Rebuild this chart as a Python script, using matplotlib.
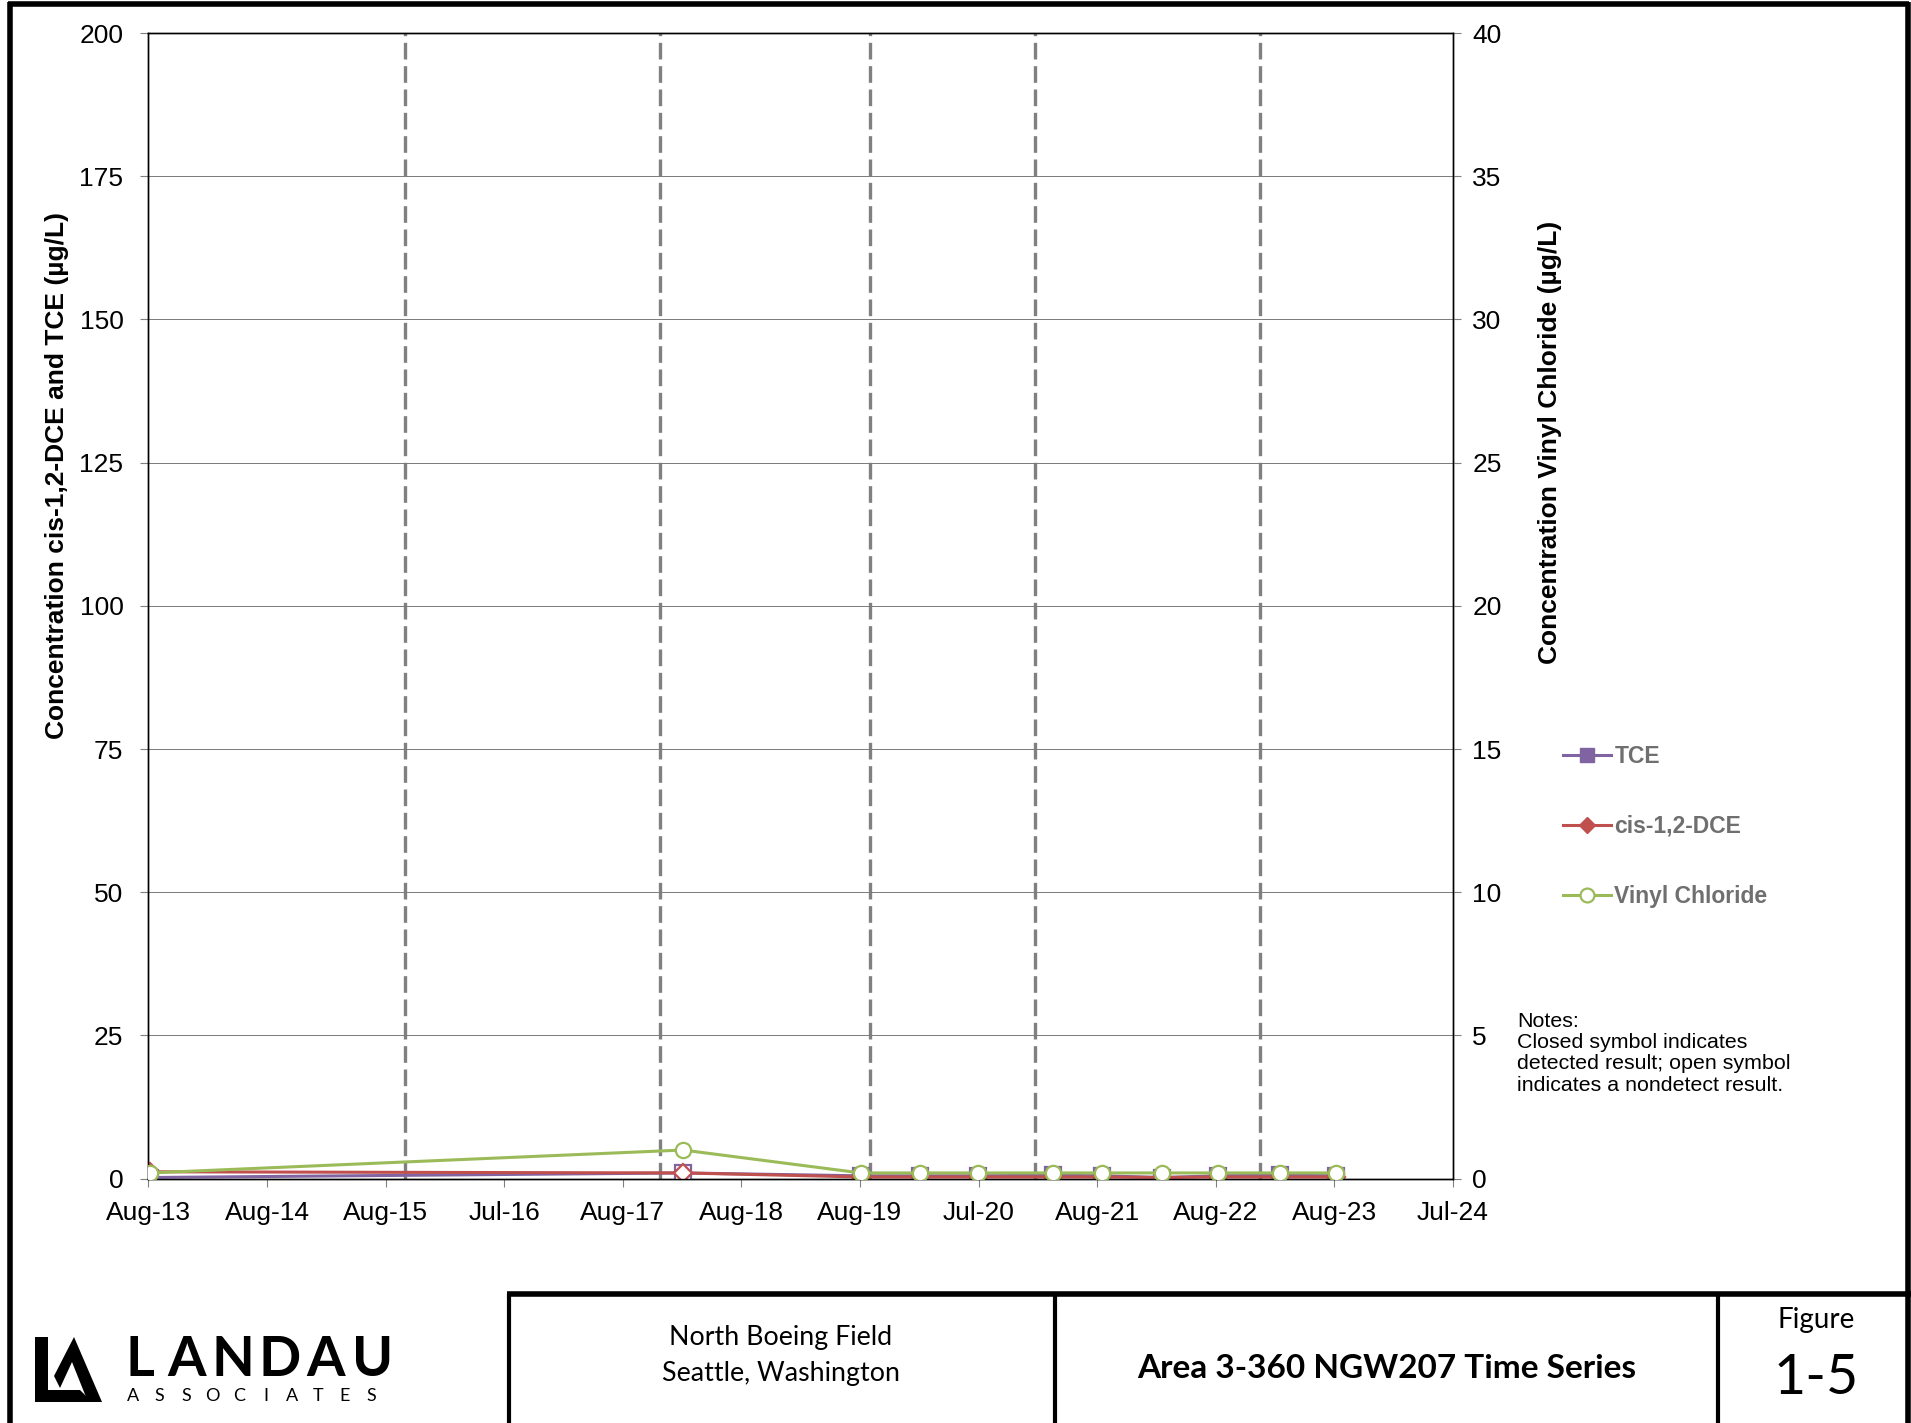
import datetime as dt

import matplotlib.pyplot as plt
import matplotlib.dates as mdates
import numpy as np
from matplotlib.lines import Line2D
from matplotlib.patches import Polygon

plt.rcParams['font.family'] = ['Liberation Sans', 'DejaVu Sans']

# --- sample data (NGW207) ---
sample_dates = ['2013-08-05', '2018-02-02', '2019-08-04', '2020-02-02', '2020-07-30',
                '2021-03-18', '2021-08-16', '2022-02-17', '2022-08-08', '2023-02-15',
                '2023-08-06']
tce = [0.2, 1.0, 0.5, 0.5, 0.5, 0.6, 0.5, 0.2, 0.5, 0.6, 0.5]
tce_detected = [False, False, True, True, True, True, True, False, True, True, True]
dce = [1.2, 1.0, 0.3, 0.3, 0.3, 0.3, 0.3, 0.2, 0.3, 0.3, 0.3]
dce_detected = [True, False, True, True, True, True, True, False, True, True, True]
vc = [0.2, 1.0, 0.2, 0.2, 0.2, 0.2, 0.2, 0.2, 0.2, 0.2, 0.2]
vc_detected = [False] * 11

# dashed reference lines (events)
event_dates = ['2015-10-01', '2017-11-23', '2019-09-01', '2021-01-21', '2022-12-14']

x_tick_labels = ['Aug-13', 'Aug-14', 'Aug-15', 'Jul-16', 'Aug-17', 'Aug-18',
                 'Aug-19', 'Jul-20', 'Aug-21', 'Aug-22', 'Aug-23', 'Jul-24']
left_ticks = [0, 25, 50, 75, 100, 125, 150, 175, 200]
right_ticks = [0, 5, 10, 15, 20, 25, 30, 35, 40]

TCE_C = '#8064A2'
DCE_C = '#C0504D'
VC_C = '#9BBB59'


def to_num(dates):
    return mdates.date2num([dt.datetime.strptime(d, '%Y-%m-%d') for d in dates])


x = to_num(sample_dates)
x0 = mdates.date2num(dt.datetime(2013, 8, 1))
x_ticks = x0 + 365.25 * np.arange(len(x_tick_labels))

fig = plt.figure(figsize=(19.11, 14.23), dpi=100)
ax = fig.add_axes([0.0777, 0.1717, 0.6826, 0.8051])
ax2 = ax.twinx()

# event lines
for d in to_num(event_dates):
    ax.axvline(d, color='#808080', lw=2.4, dashes=(5, 2), zorder=1)

ax.yaxis.grid(True, color='#7a7a7a', lw=0.7, zorder=0)


def plot_series(axis, vals, det, color, marker, ms):
    axis.plot(x, vals, color=color, lw=2.2, zorder=3)
    for xi, v, d in zip(x, vals, det):
        axis.plot(xi, v, marker=marker, ms=ms, mec=color, mew=1.6,
                  mfc=color if d else 'white', zorder=4)


plot_series(ax, tce, tce_detected, TCE_C, 's', 11)
plot_series(ax, dce, dce_detected, DCE_C, 'D', 9)
plot_series(ax2, vc, vc_detected, VC_C, 'o', 11)

ax.set_xlim(x_ticks[0], x_ticks[-1])
ax.set_xticks(x_ticks)
ax.set_xticklabels(x_tick_labels)
ax.set_ylim(0, 200)
ax.set_yticks(left_ticks)
ax2.set_ylim(0, 40)
ax2.set_yticks(right_ticks)

for a in (ax, ax2):
    a.tick_params(labelsize=19, length=6, width=0.8, color='#808080')
    for s in a.spines.values():
        s.set_color('black')
        s.set_linewidth(1.0)
ax.tick_params(axis='x', pad=10)
ax.tick_params(axis='y', pad=12)
ax2.tick_params(axis='y', pad=8)

fig.text(0.030, 0.666, 'Concentration cis-1,2-DCE and TCE (µg/L)', rotation=90,
         ha='center', va='center', fontsize=19, fontweight='bold')
fig.text(0.811, 0.689, 'Concentration Vinyl Chloride (µg/L)', rotation=90,
         ha='center', va='center', fontsize=19, fontweight='bold')

# legend
handles = [
    Line2D([], [], color=TCE_C, lw=2.2, marker='s', ms=10, mfc=TCE_C, mec=TCE_C),
    Line2D([], [], color=DCE_C, lw=2.2, marker='D', ms=8, mfc=DCE_C, mec=DCE_C),
    Line2D([], [], color=VC_C, lw=2.2, marker='o', ms=10, mfc='white', mec=VC_C, mew=1.6),
]
leg = fig.legend(handles, ['TCE', 'cis-1,2-DCE', 'Vinyl Chloride'],
                 loc='upper left', bbox_to_anchor=(0.807, 0.491), frameon=False,
                 handlelength=2.1, handletextpad=0.15, labelspacing=2.05,
                 prop={'size': 16.5, 'weight': 'bold'})
for t in leg.get_texts():
    t.set_color('#6f6f6f')

fig.text(0.794, 0.289, 'Notes:\nClosed symbol indicates\ndetected result; open symbol\n'
         'indicates a nondetect result.', ha='left', va='top', fontsize=15.4,
         linespacing=1.15)

# page border and title block
W, H = 1911, 1423


def fx(px):
    return px / W


def fy(py):
    return 1 - py / H


def line(xs, ys, lw=3):
    fig.add_artist(Line2D([fx(v) for v in xs], [fy(v) for v in ys],
                          color='black', lw=lw, solid_capstyle='butt'))


line([10, 10], [2, H], lw=4)
line([8, 1909], [4, 4], lw=4)
line([1908, 1908], [2, H], lw=4)
line([507, 1911], [1294, 1294], lw=4)
for xv in (509, 1055, 1718):
    line([xv, xv], [1294, H], lw=3)

tb_font = ['Lato', 'DejaVu Sans']
fig.text(fx(781), fy(1337), 'North Boeing Field', ha='center', va='center',
         fontsize=19.3, family=tb_font)
fig.text(fx(781), fy(1373), 'Seattle, Washington', ha='center', va='center',
         fontsize=19.3, family=tb_font)
fig.text(fx(1387), fy(1368), 'Area 3-360 NGW207 Time Series', ha='center',
         va='center', fontsize=24, fontweight='bold', family=tb_font)
fig.text(fx(1816), fy(1320), 'Figure', ha='center', va='center', fontsize=20,
         family=tb_font)
fig.text(fx(1816), fy(1378), '1-5', ha='center', va='center', fontsize=40,
         family=tb_font)

# logo: LA monogram and lettering
mono_L = [(35, 1337), (48, 1337), (48, 1390), (80, 1390), (92, 1402), (35, 1402)]
mono_A = [(74, 1337), (102, 1402), (88, 1402), (72, 1362), (60, 1388), (54, 1376)]
for poly in (mono_L, mono_A):
    fig.add_artist(Polygon([(fx(a), fy(b)) for a, b in poly], closed=True,
                           facecolor='black', edgecolor='none'))
for i, ch in enumerate('LANDAU'):
    fig.text(fx(140 + i * 46.5), fy(1360), ch, ha='center', va='center',
             fontsize=40, fontweight='bold', family=tb_font)
for i, ch in enumerate('ASSOCIATES'):
    fig.text(fx(133 + i * 26.5), fy(1396), ch, ha='center', va='center',
             fontsize=13, family=tb_font)

fig.savefig('out.png', dpi=100)
